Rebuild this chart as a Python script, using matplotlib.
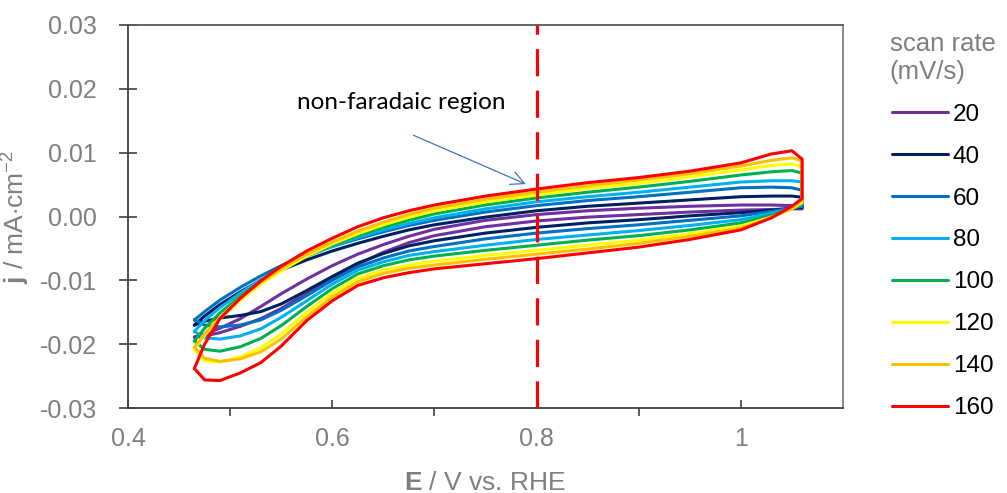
import matplotlib
matplotlib.use('Agg')
import matplotlib.pyplot as plt
from matplotlib.ticker import FixedLocator, FuncFormatter

plt.rcParams['font.family'] = ['Liberation Sans', 'DejaVu Sans']
plt.rcParams['mathtext.fontset'] = 'custom'
plt.rcParams['mathtext.rm'] = 'Liberation Sans'
plt.rcParams['mathtext.bf'] = 'Liberation Sans:bold'
plt.rcParams['axes.unicode_minus'] = False

# potential grid (V vs. RHE) shared by the anodic and cathodic branches
E_grid = [0.465, 0.475, 0.49, 0.51, 0.53, 0.55, 0.575, 0.60, 0.625, 0.65, 0.675,
          0.70, 0.75, 0.80, 0.85, 0.90, 0.95, 1.00, 1.03, 1.05, 1.06]

scan_rates = [20, 40, 60, 80, 100, 120, 140, 160]
colors = ['#7030A0', '#002060', '#0070C0', '#00B0F0', '#00B050', '#FFFF00', '#FFC000', '#FF0000']

# anodic (upper) branch, mA/cm2
j_up_20 = [-0.0189, -0.0184, -0.0175, -0.0160, -0.0141, -0.0121, -0.0098, -0.0077, -0.0059, -0.0044, -0.0031,
           -0.0020, -0.0006, 0.0003, 0.0009, 0.0013, 0.0016, 0.0018, 0.0018, 0.0017, 0.0015]
j_up_40 = [-0.0170, -0.0156, -0.0138, -0.0118, -0.0100, -0.0084, -0.0068, -0.0054, -0.0042, -0.0031, -0.0021,
           -0.0013, -0.0001, 0.0009, 0.0016, 0.0021, 0.0026, 0.0031, 0.0032, 0.0032, 0.0030]
j_up_60 = [-0.0162, -0.0149, -0.0131, -0.0111, -0.0093, -0.0077, -0.0060, -0.0047, -0.0035, -0.0024, -0.0014,
           -0.0006, 0.0007, 0.0017, 0.0025, 0.0031, 0.0038, 0.0045, 0.0046, 0.0045, 0.0041]
j_up_80 = [-0.0180, -0.0163, -0.0143, -0.0120, -0.0099, -0.0081, -0.0062, -0.0047, -0.0033, -0.0021, -0.0011,
           -0.0002, 0.0012, 0.0023, 0.0031, 0.0038, 0.0046, 0.0054, 0.0056, 0.0056, 0.0054]
j_up_100 = [-0.0195, -0.0175, -0.0151, -0.0125, -0.0102, -0.0083, -0.0062, -0.0045, -0.0030, -0.0017, -0.0006,
            0.0004, 0.0018, 0.0029, 0.0038, 0.0046, 0.0055, 0.0065, 0.0070, 0.0072, 0.0068]
j_up_120 = [-0.0208, -0.0186, -0.0160, -0.0131, -0.0106, -0.0085, -0.0062, -0.0043, -0.0027, -0.0013, -0.0001,
            0.0009, 0.0023, 0.0034, 0.0044, 0.0052, 0.0062, 0.0073, 0.0080, 0.0082, 0.0078]
j_up_140 = [-0.0205, -0.0184, -0.0158, -0.0128, -0.0103, -0.0082, -0.0059, -0.0040, -0.0023, -0.0009, 0.0003,
            0.0013, 0.0027, 0.0038, 0.0048, 0.0057, 0.0067, 0.0079, 0.0088, 0.0092, 0.0087]
j_up_160 = [-0.0238, -0.0200, -0.0160, -0.0128, -0.0101, -0.0078, -0.0054, -0.0034, -0.0016, -0.0002, 0.0009,
            0.0018, 0.0032, 0.0043, 0.0053, 0.0061, 0.0071, 0.0084, 0.0098, 0.0103, 0.0090]

# cathodic (lower) branch, same grid
j_dn_20 = [-0.0189, -0.0187, -0.0182, -0.0172, -0.0160, -0.0144, -0.0120, -0.0097, -0.0075, -0.0056, -0.0041,
           -0.0030, -0.0016, -0.0007, -0.0001, 0.0003, 0.0007, 0.0010, 0.0011, 0.0012, 0.0012]
j_dn_40 = [-0.0170, -0.0164, -0.0159, -0.0155, -0.0149, -0.0137, -0.0116, -0.0094, -0.0073, -0.0058, -0.0046,
           -0.0038, -0.0026, -0.0017, -0.0010, -0.0005, 0.0001, 0.0006, 0.0010, 0.0013, 0.0014]
j_dn_60 = [-0.0162, -0.0170, -0.0173, -0.0170, -0.0162, -0.0147, -0.0124, -0.0100, -0.0079, -0.0065, -0.0054,
           -0.0047, -0.0035, -0.0026, -0.0019, -0.0013, -0.0006, 0.0001, 0.0008, 0.0013, 0.0016]
j_dn_80 = [-0.0180, -0.0190, -0.0192, -0.0187, -0.0176, -0.0158, -0.0132, -0.0106, -0.0084, -0.0071, -0.0061,
           -0.0055, -0.0045, -0.0036, -0.0029, -0.0022, -0.0014, -0.0005, 0.0005, 0.0013, 0.0018]
j_dn_100 = [-0.0195, -0.0208, -0.0211, -0.0204, -0.0191, -0.0171, -0.0141, -0.0113, -0.0090, -0.0077, -0.0068,
            -0.0062, -0.0053, -0.0045, -0.0037, -0.0030, -0.0021, -0.0010, 0.0002, 0.0012, 0.0020]
j_dn_120 = [-0.0208, -0.0226, -0.0228, -0.0220, -0.0206, -0.0184, -0.0150, -0.0120, -0.0097, -0.0084, -0.0076,
            -0.0070, -0.0061, -0.0053, -0.0045, -0.0037, -0.0027, -0.0015, -0.0001, 0.0012, 0.0022]
j_dn_140 = [-0.0205, -0.0222, -0.0227, -0.0223, -0.0212, -0.0192, -0.0157, -0.0126, -0.0102, -0.0089, -0.0081,
            -0.0076, -0.0067, -0.0059, -0.0051, -0.0042, -0.0031, -0.0018, -0.0002, 0.0013, 0.0025]
j_dn_160 = [-0.0238, -0.0256, -0.0257, -0.0245, -0.0229, -0.0203, -0.0163, -0.0132, -0.0108, -0.0096, -0.0088,
            -0.0082, -0.0074, -0.0066, -0.0057, -0.0048, -0.0036, -0.0021, -0.0002, 0.0016, 0.0028]

j_up = [j_up_20, j_up_40, j_up_60, j_up_80, j_up_100, j_up_120, j_up_140, j_up_160]
j_dn = [j_dn_20, j_dn_40, j_dn_60, j_dn_80, j_dn_100, j_dn_120, j_dn_140, j_dn_160]

grey = '#7f7f7f'

fig = plt.figure(figsize=(10.07, 4.93), dpi=100)
ax = fig.add_axes([0.1271, 0.1724, 0.7100, 0.7769])

for rate, col, up, dn in zip(scan_rates, colors, j_up, j_dn):
    xs = E_grid + E_grid[::-1]
    ys = up + dn[::-1]
    ax.plot(xs, ys, color=col, lw=2.2, label=str(rate),
            solid_joinstyle='round', solid_capstyle='round')

ax.axvline(0.8, color='#FF0000', lw=2.3, linestyle=(0, (8.5, 4.5)), zorder=5)

ax.annotate('', xy=(0.792, 0.0049), xytext=(0.677, 0.0129),
            arrowprops=dict(arrowstyle='->', color='#4472C4', lw=0.9, mutation_scale=24))
ax.text(0.668, 0.0179, 'non-faradaic region', fontsize=17.5, family='Lato',
        ha='center', va='center', color='black')

ax.set_xlim(0.4, 1.1)
ax.set_ylim(-0.03, 0.03)
ax.xaxis.set_major_locator(FixedLocator([0.4, 0.6, 0.8, 1.0]))
ax.xaxis.set_minor_locator(FixedLocator([0.5, 0.7, 0.9]))
ax.xaxis.set_major_formatter(FuncFormatter(lambda v, p: '1' if abs(v - 1) < 1e-9 else f'{v:.1f}'))
ax.yaxis.set_major_locator(FixedLocator([-0.03, -0.02, -0.01, 0.0, 0.01, 0.02, 0.03]))
ax.yaxis.set_major_formatter(FuncFormatter(lambda v, p: f'{v:.2f}'))

ax.tick_params(axis='x', which='major', direction='in', length=6, width=1.2,
               labelsize=18, labelcolor=grey, pad=14, color='#404040')
ax.tick_params(axis='x', which='minor', direction='out', length=6, width=1.2, color='#404040')
ax.tick_params(axis='y', which='major', direction='inout', length=13, width=1.2,
               labelsize=18, labelcolor=grey, pad=16, color='#404040')

for s in ax.spines.values():
    s.set_linewidth(1.3)
    s.set_color('#404040')
ax.spines['top'].set_color('#595959')
ax.spines['right'].set_color('#808080')

ax.set_xlabel(r'$\mathbf{E}$ / V vs. RHE', fontsize=19, color=grey, labelpad=14)
ax.set_ylabel(r'$\mathbf{j}$ / mA$\cdot$cm$^{-2}$', fontsize=19, color=grey, labelpad=6)

leg = ax.legend(loc='upper left', bbox_to_anchor=(0.874, 0.955), bbox_transform=fig.transFigure,
                frameon=False, title='scan rate\n(mV/s)', fontsize=17.5, title_fontsize=18.5,
                handlelength=2.3, handletextpad=0.2, labelspacing=0.82, borderaxespad=0)
leg.get_title().set_color(grey)

fig.savefig('out.png', dpi=100)
